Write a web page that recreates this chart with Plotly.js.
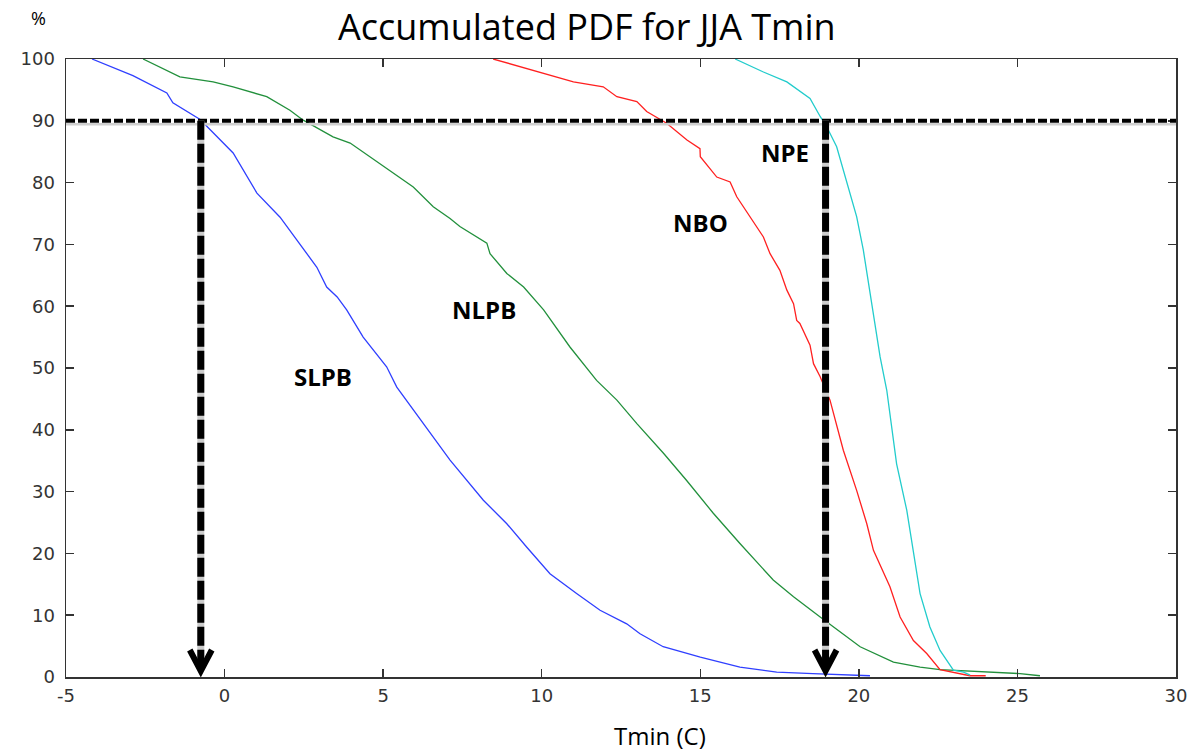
<!DOCTYPE html>
<html>
<head>
<meta charset="utf-8">
<script src="https://cdn.plot.ly/plotly-3.0.1.min.js"></script>
<style>html,body{margin:0;padding:0;background:#fff;}#chart{width:1188px;height:752px;}</style>
</head>
<body>
<div id="chart"></div>
<script>
// ---- data ----
const seriesNames = ["SLPB", "NLPB", "NBO", "NPE"];

const slpbX = [-4.18,-2.89,-1.82,-1.63,-0.77,0.27,1.02,1.75,2.91,3.22,3.55,3.85,4.37,5.11,5.43,6.27,7.11,8.16,8.90,9.53,10.26,11.10,11.84,12.68,13.10,13.83,15.0,16.25,17.41,18.55,19.82,20.35];
const slpbY = [100,97.3,94.5,92.9,90.2,84.8,78.3,74.4,66.3,63.1,61.5,59.4,55.0,50.2,46.9,41.0,35.1,28.6,24.8,21.0,16.7,13.5,10.8,8.6,7.0,4.9,3.2,1.6,0.8,0.55,0.3,0.2];

const nlpbX = [-2.57,-1.41,-0.36,0.27,1.33,2.06,2.48,3.42,3.96,4.90,5.53,5.95,6.58,7.11,7.42,8.27,8.37,8.90,9.43,10.06,10.89,11.73,12.37,13.0,13.84,14.57,15.41,16.25,17.30,17.94,18.78,19.19,20.04,21.09,21.93,22.56,24.03,25.08,25.71];
const nlpbY = [100,97.1,96.3,95.5,93.9,91.7,90.1,87.4,86.4,83.1,80.9,79.3,76.1,74.2,72.9,70.2,68.5,65.3,63.1,59.4,53.4,48.0,44.8,41.0,36.2,31.8,26.5,21.6,15.7,13.0,9.7,8.1,4.9,2.4,1.6,1.2,0.8,0.55,0.2];

const nboX = [8.47,9.95,11.0,11.94,12.37,13.0,13.31,13.94,14.58,14.99,15.0,15.52,15.94,16.15,16.57,16.99,17.20,17.51,17.73,17.94,18.04,18.14,18.46,18.57,18.78,19.09,19.51,19.93,20.25,20.46,20.98,21.30,21.72,22.14,22.56,22.98,23.5,24.0];
const nboY = [100,97.9,96.3,95.5,93.9,93.1,91.5,89.6,86.9,85.5,84.2,80.9,80.1,77.7,74.5,71.2,68.5,65.8,62.6,60.4,57.7,57.2,53.7,50.7,48.6,44.8,36.7,30.2,24.8,20.5,14.6,9.7,5.9,3.8,1.2,0.8,0.2,0.2];

const npeX = [16.10,16.99,17.73,18.46,18.78,18.99,19.30,19.62,19.93,20.14,20.35,20.61,20.67,20.88,21.19,21.51,21.72,21.93,22.24,22.56,22.98,23.30,23.51];
const npeY = [100,97.9,96.3,93.6,90.7,89.0,85.8,79.9,74.5,69.1,62.4,53.4,51.8,46.4,34.5,27.0,20.5,13.5,8.1,4.3,1.1,0.8,0.3];

const thresholdY = 90;
const thresholdX = [-0.75, 18.95];

const labelX = [3.10, 8.18, 15.02, 17.67];
const labelY = [48.7, 59.4, 73.6, 84.9];

const xTicks = [-5,0,5,10,15,20,25,30];
const yTicks = [0,10,20,30,40,50,60,70,80,90,100];

// ---- styles ----
const colors = ["#2f3fff", "#22903c", "#ff2020", "#22cccc"];
const xs = [slpbX, nlpbX, nboX, npeX];
const ys = [slpbY, nlpbY, nboY, npeY];

const traces = seriesNames.map((n, i) => ({
  type: "scatter", mode: "lines", name: n,
  x: xs[i], y: ys[i],
  line: {color: colors[i], width: 1.3},
  hoverinfo: "skip", showlegend: false
}));

const shapes = [];
// horizontal 90% line (gray shadow + black dashes)
shapes.push({type:"line", xref:"x", yref:"y", x0:-5, x1:30, y0:thresholdY-0.55, y1:thresholdY-0.55,
  line:{color:"#d0d0d0", width:2.5}});
shapes.push({type:"line", xref:"x", yref:"y", x0:-5, x1:30, y0:thresholdY, y1:thresholdY,
  line:{color:"#000", width:4, dash:"9px,3px"}});
// vertical arrows
thresholdX.forEach(x => {
  shapes.push({type:"line", xref:"x", yref:"y", x0:x, x1:x, y0:thresholdY, y1:1.5,
    line:{color:"#cccccc", width:7}});
  shapes.push({type:"line", xref:"x", yref:"y", x0:x, x1:x, y0:thresholdY, y1:1.5,
    line:{color:"#000", width:7, dash:"19px,4px"}});
  shapes.push({type:"path", xref:"x", yref:"y", xsizemode:"pixel", ysizemode:"pixel",
    xanchor:x, yanchor:0, path:"M -11,27 L 0,6 L 11,27",
    line:{color:"#000", width:6}});
});

const annotations = seriesNames.map((n, i) => ({
  x: labelX[i], y: labelY[i], xref:"x", yref:"y", text:"<b>"+n+"</b>",
  showarrow:false, font:{family:"Open Sans, Liberation Sans, sans-serif", size:24, color:"#000"}
}));
annotations.push({xref:"paper", yref:"paper", x:0.469, y:1.052, xanchor:"center", yanchor:"middle",
  text:"Accumulated PDF for JJA Tmin", showarrow:false,
  font:{family:"Open Sans, sans-serif", size:36, color:"#000"}});
annotations.push({xref:"paper", yref:"paper", x:-0.025, y:1.066, xanchor:"center", yanchor:"middle",
  text:"%", showarrow:false, font:{family:"Open Sans, sans-serif", size:18, color:"#000"}});
annotations.push({xref:"paper", yref:"paper", x:0.535, y:-0.094, xanchor:"center", yanchor:"middle",
  text:"Tmin (C)", showarrow:false, font:{family:"Open Sans, sans-serif", size:24, color:"#000"}});

const axisCommon = {
  showgrid:false, zeroline:false, showline:true, linecolor:"#333", linewidth:1.5,
  mirror:"ticks", ticks:"inside", ticklen:8, tickwidth:1.5, tickcolor:"#333",
  tickfont:{family:"DejaVu Sans, Liberation Sans, sans-serif", size:18, color:"#333"}
};

const layout = {
  width:1188, height:752,
  margin:{l:66, r:12, t:59, b:75},
  paper_bgcolor:"#fff", plot_bgcolor:"#fff",
  xaxis: Object.assign({}, axisCommon, {range:[-5,30], tickvals:xTicks, ticktext:xTicks.map(String), ticklabelstandoff:2}),
  yaxis: Object.assign({}, axisCommon, {range:[0,100], tickvals:yTicks, ticktext:yTicks.map(String), ticklabelstandoff:6}),
  shapes: shapes,
  annotations: annotations,
  showlegend:false
};

Plotly.newPlot("chart", traces, layout, {staticPlot:true, displayModeBar:false});
</script>
</body>
</html>
